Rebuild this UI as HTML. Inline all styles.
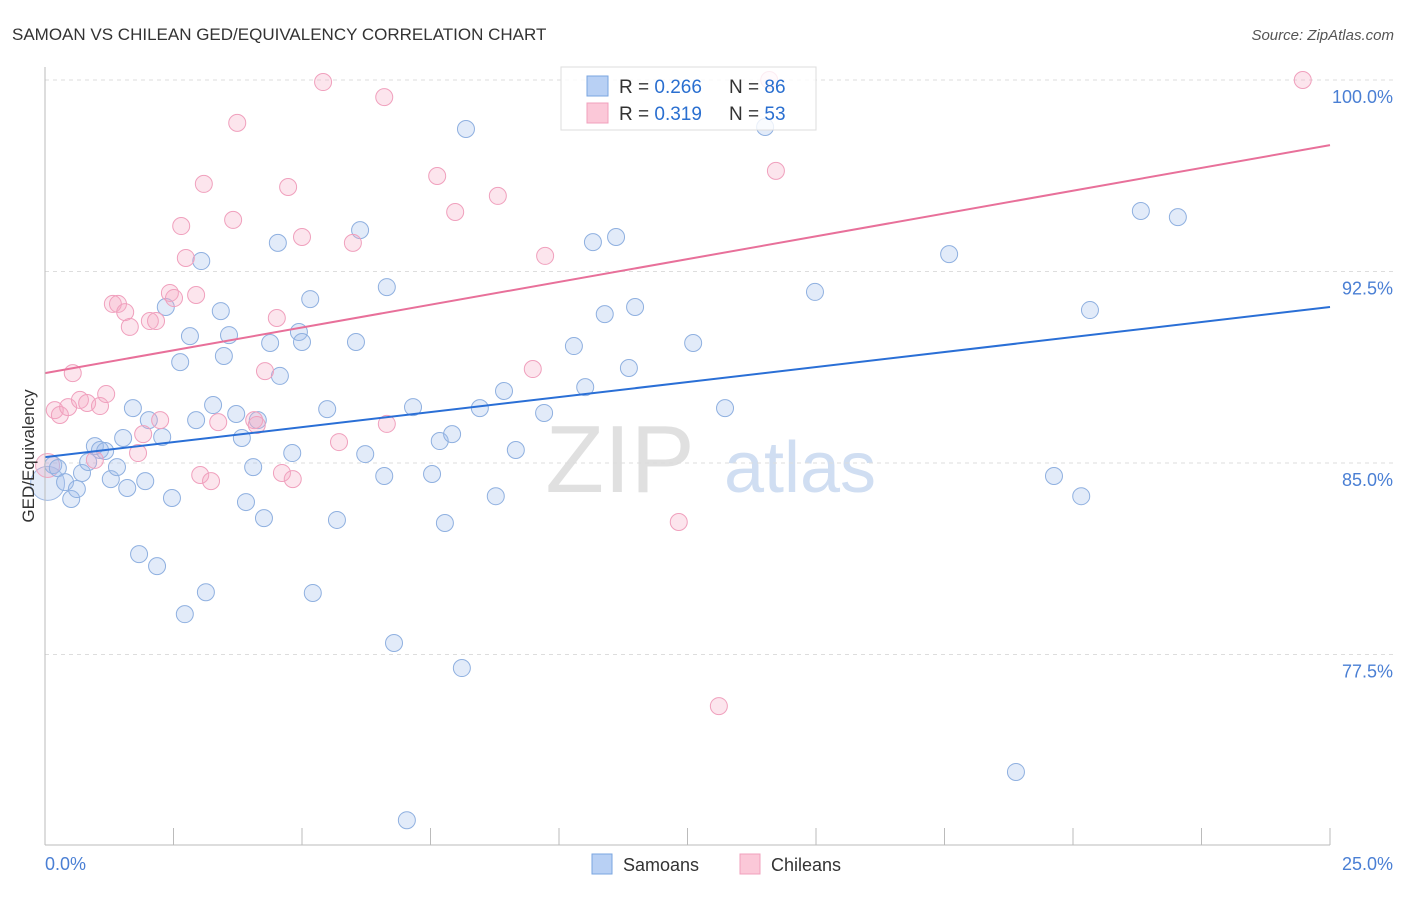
<!DOCTYPE html>
<html><head><meta charset="utf-8"><style>
body{margin:0;background:#fff;font-family:"Liberation Sans",sans-serif}
svg text{font-family:"Liberation Sans",sans-serif}
</style></head><body>
<svg id="c" width="1406" height="892" xmlns="http://www.w3.org/2000/svg">
<text x="12" y="40" font-size="17" fill="#333">SAMOAN VS CHILEAN GED/EQUIVALENCY CORRELATION CHART</text>
<text x="1394" y="40" font-size="15" fill="#555" font-style="italic" text-anchor="end">Source: ZipAtlas.com</text>
<text x="620" y="492" font-size="96" fill="#e0e0e0" font-family="Liberation Serif" text-anchor="middle">ZIP</text>
<text x="800" y="492" font-size="72" fill="#d0def2" text-anchor="middle">atlas</text>
<g id="grid"></g>
<g id="marks"></g>
<line x1="45" y1="67" x2="45" y2="845" stroke="#bbb"/>
<line x1="45" y1="845" x2="1330" y2="845" stroke="#bbb"/>
<text transform="translate(34,456) rotate(-90)" font-size="17" fill="#333" text-anchor="middle">GED/Equivalency</text>
<text x="45" y="870" font-size="18" fill="#4a7fd4">0.0%</text>
<text x="1393" y="870" font-size="18" fill="#4a7fd4" text-anchor="end">25.0%</text>
<g>
<rect x="561" y="67" width="255" height="63" fill="#fff" fill-opacity="0.8" stroke="#ddd"/>
<rect x="587" y="76" width="21" height="20" fill="#b8d0f4" stroke="#7aa6e0"/>
<rect x="587" y="103" width="21" height="20" fill="#fbc8d8" stroke="#f0a0bd"/>
<text x="619" y="93" font-size="19" fill="#333">R = <tspan fill="#2a6fd0">0.266</tspan></text>
<text x="729" y="93" font-size="19" fill="#333">N = <tspan fill="#2a6fd0">86</tspan></text>
<text x="619" y="120" font-size="19" fill="#333">R = <tspan fill="#2a6fd0"> 0.319</tspan></text>
<text x="729" y="120" font-size="19" fill="#333">N = <tspan fill="#2a6fd0">53</tspan></text>
</g>
<g><rect x="592" y="854" width="20" height="20" fill="#b8d0f4" stroke="#7aa6e0"/><text x="623" y="871" font-size="18" fill="#333">Samoans</text></g>
<g><rect x="740" y="854" width="20" height="20" fill="#fbc8d8" stroke="#f0a0bd"/><text x="771" y="871" font-size="18" fill="#333">Chileans</text></g>
</svg>
<script>
const yTicks=[100,92.5,85,77.5];
const xTickVals=[0,2.5,5,7.5,10,12.5,15,17.5,20,22.5,25];
const samX=[0.16,0.25,0.39,0.51,0.62,0.72,0.84,0.97,1.07,1.17,1.28,1.40,1.52,1.60,1.71,1.83,1.95,2.02,2.18,2.28,2.35,2.47,2.63,2.72,2.82,2.94,3.04,3.13,3.27,3.42,3.48,3.58,3.72,3.83,3.91,4.05,4.14,4.26,4.38,4.53,4.57,4.81,4.94,5.00,5.16,5.21,5.49,5.68,6.05,6.13,6.23,6.60,6.65,6.79,7.04,7.16,7.53,7.68,7.78,7.92,8.11,8.19,8.46,8.77,8.93,9.16,9.71,10.29,10.51,10.66,10.89,11.11,11.36,11.48,12.61,13.23,14.01,14.98,17.59,18.89,19.63,20.16,20.33,21.32,22.04];
const samY=[84.92,84.80,84.25,83.59,83.98,84.61,85.04,85.66,85.51,85.47,84.37,84.84,85.98,84.02,87.15,81.43,84.29,86.68,80.96,86.02,91.11,83.63,88.95,79.08,89.97,86.68,92.91,79.94,87.27,90.95,89.19,90.01,86.92,85.98,83.47,84.84,86.68,82.84,89.70,93.62,88.41,85.39,90.13,89.74,91.42,79.91,87.11,82.77,89.74,94.12,85.35,84.49,91.89,77.95,71.01,87.19,84.57,85.86,82.65,86.13,76.97,98.08,87.15,83.70,87.82,85.51,86.96,89.58,87.97,93.65,90.83,93.85,88.72,91.11,89.70,87.15,98.16,91.70,93.18,72.90,84.49,83.70,90.99,94.87,94.63];
const chiX=[0.19,0.29,0.45,0.54,0.68,0.82,0.97,1.07,1.19,1.32,1.42,1.56,1.65,1.81,1.91,2.04,2.16,2.24,2.43,2.51,2.65,2.74,2.94,3.02,3.09,3.23,3.37,3.66,3.74,4.07,4.12,4.28,4.51,4.61,4.73,4.82,5.00,5.41,5.72,5.99,6.60,6.65,7.63,7.98,8.81,9.49,9.73,12.33,13.11,14.09,14.22,24.47];
const chiY=[87.07,86.88,87.19,88.52,87.47,87.35,85.12,87.23,87.70,91.23,91.23,90.91,90.33,85.39,86.13,90.56,90.56,86.68,91.66,91.46,94.28,93.03,91.58,84.53,95.93,84.29,86.60,94.52,98.32,86.68,86.49,88.60,90.68,84.61,95.81,84.37,93.85,99.92,85.82,93.62,99.33,86.53,96.24,94.83,95.46,88.68,93.11,82.69,75.48,100,96.44,100];
const samTrend=[85.23,91.11];
const chiTrend=[88.52,97.45];
const NS='http://www.w3.org/2000/svg';
const X=v=>45+v/25*1285;
const Y=v=>80+(100-v)/7.5*191.5;
function mk(tag,attrs,parent){const e=document.createElementNS(NS,tag);for(const k in attrs)e.setAttribute(k,attrs[k]);parent.appendChild(e);return e;}
const grid=document.getElementById('grid'),marks=document.getElementById('marks');
yTicks.forEach(t=>{
 const l=mk('line',{x1:45,x2:1393,y1:Y(t),y2:Y(t),stroke:'#ddd','stroke-dasharray':'4,4'},grid);
 
 
 const tx=mk('text',{x:1393,y:Y(t)+23,'font-size':18,fill:'#4a7fd4','text-anchor':'end'},grid);
 tx.textContent=t.toFixed(1)+'%';
 
 
});
xTickVals.forEach(t=>{
 const l=mk('line',{x1:X(t),x2:X(t),y1:828,y2:845,stroke:'#bbb'},grid);
 
 
});
mk('circle',{cx:X(0.05),cy:Y(84.2),r:17,fill:'rgba(160,190,235,0.3)',stroke:'#9cb8e4'},marks);
mk('circle',{cx:X(0.05),cy:Y(84.9),r:12,fill:'rgba(245,170,195,0.3)',stroke:'#f0a8c2'},marks);
samX.forEach((x,i)=>{
 const c=mk('circle',{cx:X(x),cy:Y(samY[i]),r:8.5,fill:'rgba(160,190,235,0.3)',stroke:'#8fb0e0','stroke-width':1},marks);
 
 
});
chiX.forEach((x,i)=>{
 const c=mk('circle',{cx:X(x),cy:Y(chiY[i]),r:8.5,fill:'rgba(245,170,195,0.3)',stroke:'#f0a0bd','stroke-width':1},marks);
 
 
});
const t1=mk('line',{x1:X(0),y1:Y(samTrend[0]),x2:X(25),y2:Y(samTrend[1]),stroke:'#2a6fd6','stroke-width':2},marks);


const t2=mk('line',{x1:X(0),y1:Y(chiTrend[0]),x2:X(25),y2:Y(chiTrend[1]),stroke:'#e8709a','stroke-width':2},marks);


</script>
</body></html>
